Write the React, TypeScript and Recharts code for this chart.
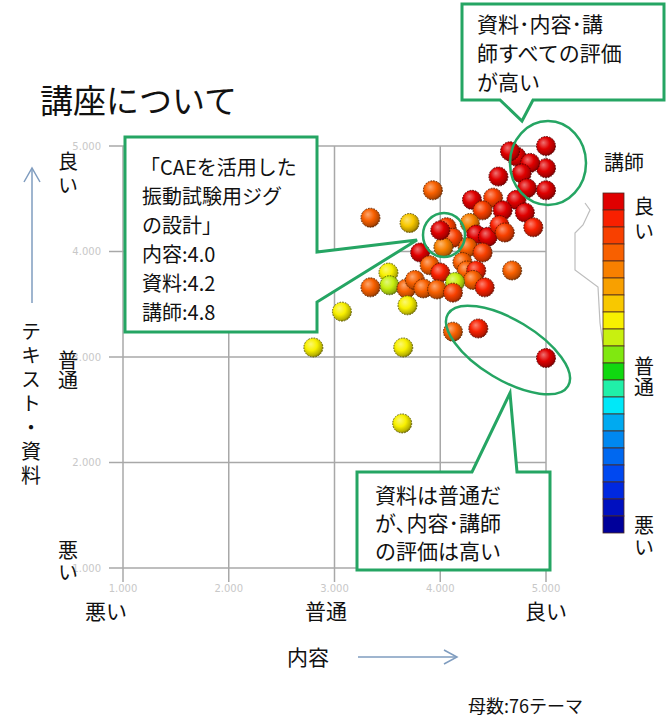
import React from 'react';
import { CartesianGrid, Scatter, ScatterChart, XAxis, YAxis } from 'recharts';

// 各テーマの平均評価（1〜5）: 内容 = x, 資料 = y, 講師 = 色
const contentScores = [
  5.0, 5.0, 5.0, 4.72, 4.66, 4.85, 4.77, 4.82, 4.55, 4.72, 4.8, 4.88,
  3.93, 4.3, 4.5, 4.59, 4.4, 3.34, 3.71, 4.06, 4.12, 4.03, 4.0, 4.28,
  4.34, 4.45, 4.56, 4.61, 4.26, 4.4, 3.81, 3.9, 4.0, 4.21, 4.25, 4.34,
  4.31, 4.42, 4.68, 3.51, 3.52, 3.34, 3.68, 3.76, 3.84, 3.97, 4.14, 4.12,
  3.69, 3.07, 4.12, 4.36, 2.8, 3.65, 5.0, 3.64,
];
const materialScores = [
  5.0, 4.79, 4.58, 4.9, 4.95, 4.84, 4.74, 4.6, 4.71, 4.49, 4.37, 4.23,
  4.58, 4.49, 4.51, 4.39, 4.39, 4.32, 4.27, 4.23, 4.13, 4.04, 4.2, 4.27,
  4.16, 4.14, 4.25, 4.18, 4.04, 3.99, 3.99, 3.87, 3.8, 3.9, 3.82, 3.82,
  3.73, 3.66, 3.82, 3.8, 3.68, 3.66, 3.65, 3.73, 3.65, 3.64, 3.71, 3.61,
  3.49, 3.43, 3.24, 3.27, 3.09, 3.09, 2.99, 2.37,
];
const lecturerScores = [
  4.9, 4.9, 4.9, 4.9, 4.9, 4.9, 4.9, 4.9, 4.9, 4.9, 4.9, 4.7,
  4.3, 4.9, 4.5, 4.9, 4.5, 4.2, 3.7, 4.5, 4.5, 4.0, 4.8, 4.1,
  4.9, 4.9, 4.6, 4.5, 4.3, 4.5, 4.9, 4.3, 4.6, 4.3, 4.3, 4.7,
  4.3, 4.6, 4.3, 3.5, 3.3, 4.2, 4.3, 4.3, 4.3, 4.2, 3.3, 4.5,
  3.5, 3.5, 4.3, 4.6, 3.5, 3.5, 4.8, 3.5,
];

const axisTicks = [1, 2, 3, 4, 5];

// 講師評価のカラースケール（悪い → 良い、0.2刻み）
const scaleColors = [
  '#00009a', '#0010c0', '#0028e0', '#0048f0', '#0068f0',
  '#0088f0', '#00aaf0', '#00e8f8', '#20f0a8', '#10d810',
  '#80e810', '#c8f010', '#f8f000', '#f8c800', '#f8a000',
  '#f88000', '#f86000', '#f84000', '#f82000', '#e00000',
];

const points = contentScores.map((x, i) => ({
  x,
  y: materialScores[i],
  z: lecturerScores[i],
}));

const FONT = '"Noto Sans CJK JP", "Noto Sans", sans-serif';
const GREEN = '#25a563';

const binOf = (z: number) =>
  Math.max(0, Math.min(scaleColors.length - 1, Math.floor((z - 1) / 0.2 + 1e-6)));

const mix = (hex: string, target: number, t: number) => {
  const n = parseInt(hex.slice(1), 16);
  const ch = [(n >> 16) & 255, (n >> 8) & 255, n & 255].map((c) =>
    Math.round(c + (target - c) * t)
  );
  return `rgb(${ch[0]},${ch[1]},${ch[2]})`;
};

const Ball = (props: any) => {
  const { cx, cy, payload } = props;
  const idx = binOf(payload.z);
  return (
    <circle
      cx={cx}
      cy={cy}
      r={9.5}
      fill={`url(#ball-${idx})`}
      stroke={mix(scaleColors[idx], 0, 0.6)}
      strokeWidth={1}
      strokeDasharray="1.6 1.2"
    />
  );
};

const fmt = (v: number) => v.toFixed(3);

// 縦書きラベル
function VText({ x, y, text, gap = 0 }: { x: number; y: number; text: string; gap?: number }) {
  return (
    <text
      x={x}
      y={y}
      fontSize={20}
      fill="#111"
      style={{ writingMode: 'vertical-rl', letterSpacing: gap }}
    >
      {text}
    </text>
  );
}

export default function App() {
  return (
    <div
      style={{
        position: 'absolute',
        left: 0,
        top: 0,
        width: 667,
        height: 725,
        background: '#fff',
        fontFamily: FONT,
      }}
    >
      <svg width={0} height={0} style={{ position: 'absolute' }}>
        <defs>
          {scaleColors.map((c, i) => (
            <radialGradient key={i} id={`ball-${i}`} cx="0.42" cy="0.4" r="0.62" fx="0.36" fy="0.32">
              <stop offset="0" stopColor={mix(c, 255, 0.45)} />
              <stop offset="0.5" stopColor={c} />
              <stop offset="0.85" stopColor={mix(c, 0, 0.25)} />
              <stop offset="1" stopColor={mix(c, 0, 0.5)} />
            </radialGradient>
          ))}
        </defs>
      </svg>

      <ScatterChart
        width={667}
        height={725}
        margin={{ top: 146, right: 121, bottom: 117, left: 63 }}
      >
        <CartesianGrid stroke="#a8a8a8" strokeWidth={1.5} />
        <XAxis
          type="number"
          dataKey="x"
          domain={[1, 5]}
          ticks={axisTicks}
          tickFormatter={fmt}
          height={40}
          axisLine={false}
          tickSize={14}
          tickMargin={3}
          tickLine={{ stroke: '#a8a8a8', strokeWidth: 1.5 }}
          tick={{ fill: '#c8c8c8', fontSize: 10, fontFamily: 'DejaVu Sans' }}
        />
        <YAxis
          type="number"
          dataKey="y"
          domain={[1, 5]}
          ticks={axisTicks}
          tickFormatter={fmt}
          width={60}
          axisLine={false}
          tickSize={14}
          tickMargin={8}
          tickLine={{ stroke: '#a8a8a8', strokeWidth: 1.5 }}
          tick={{ fill: '#c8c8c8', fontSize: 10, fontFamily: 'DejaVu Sans' }}
        />
        <Scatter data={points} shape={Ball} isAnimationActive={false} />
      </ScatterChart>

      <svg
        width={667}
        height={725}
        style={{ position: 'absolute', left: 0, top: 0, pointerEvents: 'none' }}
        fontFamily={FONT}
      >
        <text x={40} y={113} fontSize={33} fill="#111">
          講座について
        </text>

        {/* 縦軸: テキスト・資料 */}
        <line x1={32} y1={303} x2={32} y2={169} stroke="#7f9cbf" strokeWidth={1.5} />
        <polyline points="24,182 32,168 40,182" fill="none" stroke="#7f9cbf" strokeWidth={1.5} />
        <VText x={31} y={321} text="テキスト・資料" gap={4} />
        <VText x={68} y={151} text="良い" gap={4} />
        <VText x={68} y={350} text="普通" />
        <VText x={68} y={540} text="悪い" gap={2} />

        {/* 横軸: 内容 */}
        <text x={106} y={619} textAnchor="middle" fontSize={21} fill="#111">悪い</text>
        <text x={326} y={619} textAnchor="middle" fontSize={21} fill="#111">普通</text>
        <text x={546} y={619} textAnchor="middle" fontSize={21} fill="#111">良い</text>
        <text x={287} y={665} fontSize={21} fill="#111">内容</text>
        <line x1={358} y1={657} x2={456} y2={657} stroke="#7f9cbf" strokeWidth={1.5} />
        <polyline points="444,650 457,657 444,664" fill="none" stroke="#7f9cbf" strokeWidth={1.5} />
        <text x={468} y={713} fontSize={18} fill="#111">母数:76テーマ</text>

        {/* 注目の丸 */}
        <ellipse cx={444} cy={235} rx={21} ry={22} fill="none" stroke={GREEN} strokeWidth={2.5} />
        <ellipse cx={548} cy={163} rx={38} ry={42} fill="none" stroke={GREEN} strokeWidth={2.5} />
        <ellipse
          cx={508}
          cy={350}
          rx={70}
          ry={30}
          transform="rotate(31 508 350)"
          fill="none"
          stroke={GREEN}
          strokeWidth={2.5}
        />

        {/* 吹き出し */}
        <path
          d="M125,137 H317 V252 L417,240 L317,302 V332 H125 Z"
          fill="#fff"
          stroke={GREEN}
          strokeWidth={3}
        />
        <g fontSize={20} fill="#111">
          <text x={140} y={175}>「CAEを活用した</text>
          <text x={142} y={204}>振動試験用ジグ</text>
          <text x={142} y={233}>の設計」</text>
          <text x={142} y={262}>内容:4.0</text>
          <text x={142} y={291}>資料:4.2</text>
          <text x={142} y={320}>講師:4.8</text>
        </g>

        <path
          d="M462,4 H664 V100 H533 L522,121 L500,100 H462 Z"
          fill="#fff"
          stroke={GREEN}
          strokeWidth={3}
        />
        <g fontSize={21} fill="#111">
          <text x={477} y={32}>資料･内容･講</text>
          <text x={477} y={61}>師すべての評価</text>
          <text x={477} y={90}>が高い</text>
        </g>

        <path
          d="M357,472 H472 L510,393 L517,472 H550 V570 H357 Z"
          fill="#fff"
          stroke={GREEN}
          strokeWidth={3}
        />
        <g fontSize={21} fill="#111">
          <text x={375} y={503}>資料は普通だ</text>
          <text x={375} y={531}>が､内容･講師</text>
          <text x={375} y={559}>の評価は高い</text>
        </g>

        {/* 講師評価のカラーバー */}
        <polyline
          points="585,203 590,210 583,225 575,233 575,270 598,287 600,323 603,345"
          fill="none"
          stroke="#bdbdbd"
          strokeWidth={1.2}
        />
        <text x={604} y={170} fontSize={20} fill="#111">講師</text>
        {scaleColors
          .slice()
          .reverse()
          .map((c, i) => (
            <rect
              key={c}
              x={603}
              y={193 + i * 17}
              width={21}
              height={17}
              fill={c}
              stroke="#4a2a20"
              strokeWidth={0.8}
            />
          ))}
        <VText x={644} y={196} text="良い" gap={5} />
        <VText x={644} y={356} text="普通" gap={1} />
        <VText x={644} y={515} text="悪い" gap={2} />
      </svg>
    </div>
  );
}
